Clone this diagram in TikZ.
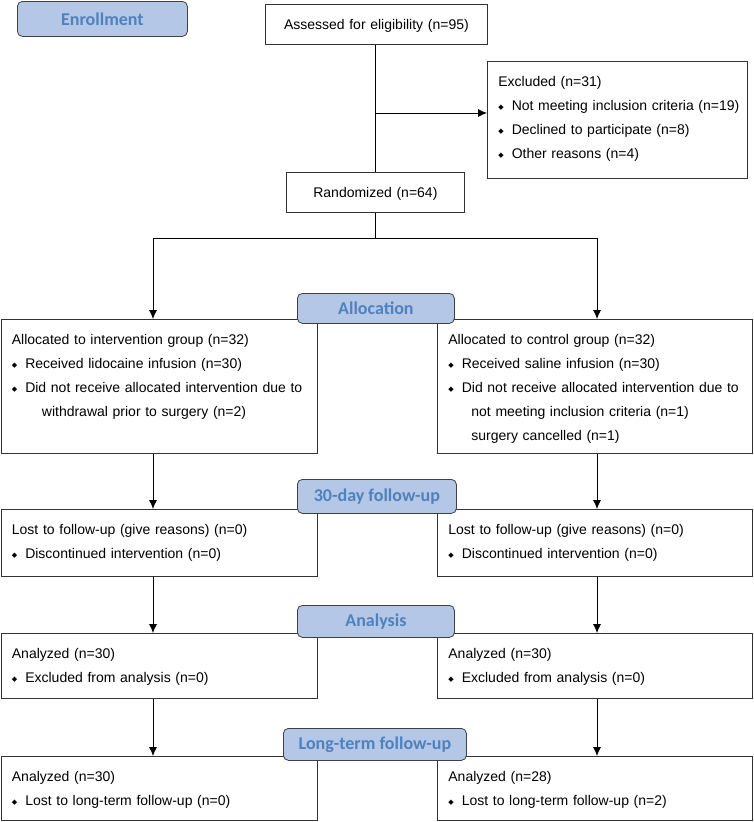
\documentclass[tikz,border=0pt]{standalone}
\usepackage{fontspec}
\setmainfont{Liberation Sans}
\newfontfamily\headfont{Carlito}
\newfontfamily\symfont{DejaVu Sans}
\usetikzlibrary{arrows.meta}

\definecolor{stagefill}{RGB}{180,199,231}
\definecolor{stagetext}{RGB}{79,129,189}
\newcommand{\bul}{\raisebox{1pt}{\symfont\fontsize{7}{7}\selectfont ◆}\hspace{8pt}}

\tikzset{
  box/.style={draw=black!80, line width=0.8pt, anchor=north west, align=left,
    inner xsep=11pt, inner ysep=12pt, text height=13pt,
    font=\fontsize{14}{24}\selectfont},
  stage/.style={draw=black!75, fill=stagefill, text=stagetext, line width=0.8pt,
    rounded corners=5pt, anchor=north west, inner sep=0pt,
    font=\headfont\bfseries\fontsize{18}{20}\selectfont},
  arr/.style={-{Latex[length=9pt,width=8pt]}, line width=0.8pt},
}

\begin{document}
\begin{tikzpicture}[x=1pt,y=-1pt]
  \useasboundingbox (0,0) rectangle (753,822);

  % enrollment
  \node[box, align=center, text width=200pt, text depth=3pt] (assess) at (265,4)
    {Assessed for eligibility (n=95)};
  \node[box, inner xsep=8pt, text width=244pt, text depth=80pt] (excl) at (487,61)
    {\hspace*{3pt}Excluded (n=31)\\
     \hspace*{3pt}\bul Not meeting inclusion criteria (n=19)\\
     \hspace*{3pt}\bul Declined to participate (n=8)\\
     \hspace*{3pt}\bul Other reasons (n=4)};
  \node[box, align=center, text width=156pt, text depth=3pt] (rand) at (286,172)
    {Randomized (n=64)};

  % allocation
  \node[box, text width=294pt, text depth=97pt] (allocL) at (0.5,319)
    {Allocated to intervention group (n=32)\\
     \bul Received lidocaine infusion (n=30)\\
     \bul Did not receive allocated intervention due to\\
     \hspace*{30pt}withdrawal prior to surgery (n=2)};
  \node[box, text width=293pt, text depth=97pt] (allocR) at (437,319)
    {Allocated to control group (n=32)\\
     \bul Received saline infusion (n=30)\\
     \bul Did not receive allocated intervention due to\\
     \hspace*{23pt}not meeting inclusion criteria (n=1)\\
     \hspace*{23pt}surgery cancelled (n=1)};

  % follow-up
  \node[box, text width=294pt, text depth=30pt] (fuL) at (0.5,509)
    {Lost to follow-up (give reasons) (n=0)\\
     \bul Discontinued intervention (n=0)};
  \node[box, text width=293pt, text depth=30pt] (fuR) at (437,509)
    {Lost to follow-up (give reasons) (n=0)\\
     \bul Discontinued intervention (n=0)};

  % analysis
  \node[box, text width=294pt, text depth=28pt] (anL) at (0.5,633)
    {Analyzed (n=30)\\
     \bul Excluded from analysis (n=0)};
  \node[box, text width=293pt, text depth=28pt] (anR) at (437,633)
    {Analyzed (n=30)\\
     \bul Excluded from analysis (n=0)};

  % long-term
  \node[box, text width=294pt, text depth=27pt] (ltL) at (0.5,756)
    {Analyzed (n=30)\\
     \bul Lost to long-term follow-up (n=0)};
  \node[box, text width=293pt, text depth=27pt] (ltR) at (437,756)
    {Analyzed (n=28)\\
     \bul Lost to long-term follow-up (n=2)};

  % stage labels
  \node[stage, minimum width=170pt, minimum height=35pt] (enroll) at (17,1) {Enrollment};
  \node[stage, minimum width=157pt, minimum height=30pt] (allocation) at (297,293) {Allocation};
  \node[stage, minimum width=159pt, minimum height=34pt] (followup) at (297,479) {30-day follow-up};
  \node[stage, minimum width=157pt, minimum height=32pt] (analysis) at (297,605) {Analysis};
  \node[stage, minimum width=183pt, minimum height=32pt] (longterm) at (283,728) {Long-term follow-up};

  % connectors
  \coordinate (tee) at (375,113);
  \coordinate (colL) at (153,238);
  \coordinate (colR) at (597,238);
  \draw[line width=0.8pt] (tee |- assess.south) -- (tee |- rand.north);
  \draw[arr] (tee) -- (tee -| excl.west);
  \draw[line width=0.8pt] (tee |- rand.south) -- (tee |- colL);
  \draw[line width=0.8pt] (colL) -- (colR);
  \draw[arr] (colL) -- (colL |- allocL.north);
  \draw[arr] (colR) -- (colR |- allocR.north);
  \foreach \a/\b in {allocL/fuL, fuL/anL, anL/ltL}
    \draw[arr] (colL |- \a.south) -- (colL |- \b.north);
  \foreach \a/\b in {allocR/fuR, fuR/anR, anR/ltR}
    \draw[arr] (colR |- \a.south) -- (colR |- \b.north);
\end{tikzpicture}
\end{document}
